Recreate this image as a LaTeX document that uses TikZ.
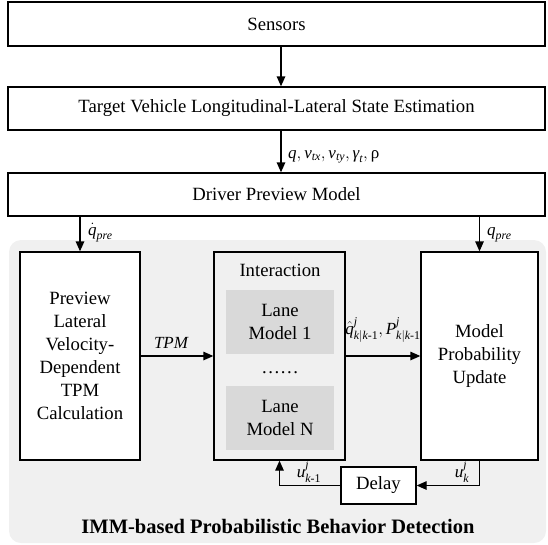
\documentclass[tikz,border=0pt]{standalone}
\usepackage{amsmath}
\usepackage{fontspec}
\setmainfont{Liberation Serif}
\usetikzlibrary{arrows.meta}
\newcommand\mi[1]{\text{\itshape #1}}
\newcommand\ru[1]{\text{\upshape #1}}
\definecolor{bgc}{HTML}{F0F0F0}
\definecolor{lanec}{HTML}{D9D9D9}
\begin{document}
\begin{tikzpicture}[x=1pt,y=-1pt,
  font=\fontsize{18.7}{23}\selectfont,
  box/.style={draw, line width=1.3pt, fill=white, inner sep=0pt, align=center},
  lanebox/.style={fill=lanec, inner sep=0pt, align=center, minimum width=108pt, minimum height=64pt},
  arr/.style={-{Triangle[length=10pt,width=8.5pt]}, line width=1.3pt},
  lbl/.style={font=\fontsize{17}{20}\selectfont, inner sep=1pt}]
\useasboundingbox (0,0) rectangle (548,544);
% top chain
\node[box, minimum width=537pt, minimum height=44pt] (sens) at (276.5,24) {Sensors};
\node[box, minimum width=537pt, minimum height=43pt] (tgt) at (276.5,108.5) {Target Vehicle Longitudinal-Lateral State Estimation};
\node[box, minimum width=537pt, minimum height=43pt] (drv) at (276.5,194.5) {Driver Preview Model};
% background region
\node[fill=bgc, rounded corners=12pt, minimum width=537pt, minimum height=303pt, inner sep=0pt] (bg) at (277.5,391.5) {};
\node[font=\bfseries\fontsize{20.5}{24}\selectfont] (title) at (278,526) {IMM-based Probabilistic Behavior Detection};
% inner boxes
\node[box, minimum width=120pt, minimum height=208pt] (prev) at (80,356) {Preview\\Lateral\\Velocity-\\Dependent\\TPM\\Calculation};
\node[box, fill=bgc, minimum width=131pt, minimum height=208pt] (int) at (279.5,356) {};
\node (intl) at (280,270) {Interaction};
\node[lanebox] (lane1) at (280,322) {Lane\\Model 1};
\node (dots) at (280,373) {……};
\node[lanebox] (laneN) at (280,418) {Lane\\Model N};
\node[box, minimum width=117pt, minimum height=208pt] (mp) at (479.5,356) {Model\\Probability\\Update};
\node[box, minimum width=75pt, minimum height=37pt] (delay) at (378.5,485.5) {Delay};
% connectors
\coordinate (cx) at (281,0);
\coordinate (lx) at (80,0);
\draw[arr] (sens.south -| cx) -- (tgt.north -| cx);
\draw[arr] (tgt.south -| cx) -- (drv.north -| cx);
\draw[arr] (drv.south -| lx) -- (prev.north);
\draw[arr] (drv.south -| mp.north) -- (mp.north);
\draw[arr] (prev.east) -- (int.west);
\draw[arr] (int.east) -- (mp.west);
\draw[arr] (mp.south) |- (delay.east);
\draw[arr] (delay.west) -| (int.south);
% labels
\node[lbl, anchor=base west] (l1) at (287,158) {$\mi{q},\mi{v}_{\mi{tx}},\mi{v}_{\mi{ty}},\mi{γ}_{\mi{t}},\ru{ρ}$};
\node[lbl, anchor=base west] (l2) at (87,235) {$\dot{\mi{q}}_{\mi{pre}}$};
\node[lbl, anchor=base west] (l3) at (486,235) {$\mi{q}_{\mi{pre}}$};
\node[lbl, anchor=base] (l4) at (171,348) {\mi{TPM}};
\node[lbl, anchor=base] (l5) at (383,334) {$\hat{\mi{q}}^{\mi{j}}_{\mi{k}|\mi{k}\ru{-1}},\mi{P}^{\mi{j}}_{\mi{k}|\mi{k}\ru{-1}}$};
\node[lbl, anchor=base] (l6) at (309,477) {$\mi{u}^{\mi{j}}_{\mi{k}\ru{-1}}$};
\node[lbl, anchor=base] (l7) at (462,477) {$\mi{u}^{\mi{j}}_{\mi{k}}$};
\end{tikzpicture}
\end{document}
